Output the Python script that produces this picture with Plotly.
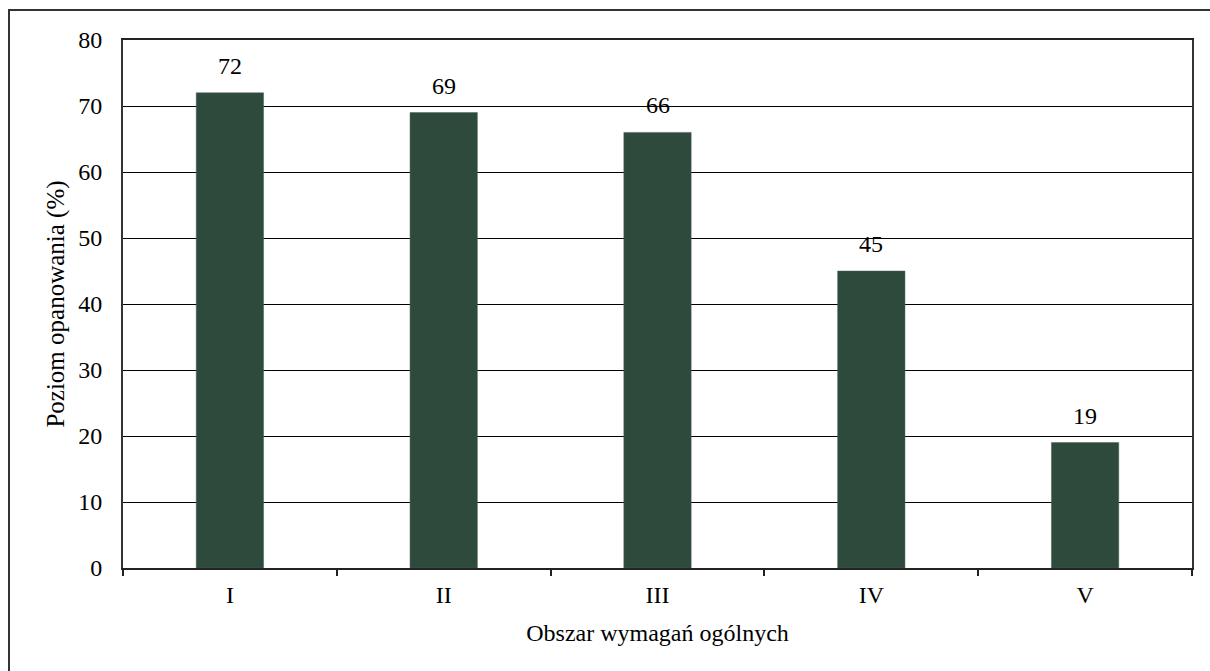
import plotly.graph_objects as go

categories = ["I", "II", "III", "IV", "V"]
values = [72, 69, 66, 45, 19]
y_ticks = [0, 10, 20, 30, 40, 50, 60, 70, 80]

FONT = "Liberation Serif, Times New Roman, serif"
BAR_COLOR = "#2E4A3C"

fig = go.Figure()
fig.add_trace(go.Bar(
    x=categories, y=values, width=0.315,
    marker=dict(color=BAR_COLOR, line=dict(color="#4a6357", width=0.5)),
    hoverinfo="x+y",
))

for c, v in zip(categories, values):
    fig.add_annotation(x=c, y=v, text=str(v), showarrow=False,
                       yanchor="bottom", yshift=12,
                       font=dict(family=FONT, size=24, color="#000"))

fig.update_layout(
    width=1210, height=671,
    margin=dict(l=123, r=18, t=40, b=103),
    paper_bgcolor="white", plot_bgcolor="white",
    font=dict(family=FONT, size=24, color="#000"),
    showlegend=False,
    xaxis=dict(
        title=dict(text="Obszar wymagań ogólnych", standoff=17,
                   font=dict(family=FONT, size=24)),
        tickson="boundaries", ticks="outside", ticklen=6, tickwidth=1.5,
        ticklabelstandoff=4,
        tickcolor="#222", showline=True, linecolor="#222", linewidth=2,
        mirror=True, showgrid=False, zeroline=False,
    ),
    yaxis=dict(
        title=dict(text="Poziom opanowania (%)", standoff=6,
                   font=dict(family=FONT, size=25)),
        range=[0, 80], tickvals=y_ticks, ticks="", ticklabelstandoff=14,
        showline=True, linecolor="#333", linewidth=2, mirror=True,
        showgrid=True, gridcolor="#000", gridwidth=1, zeroline=False,
    ),
    shapes=[dict(type="rect", xref="paper", yref="paper",
                 x0=(9 - 123) / 1069, x1=(1220 - 123) / 1069,
                 y0=(568 - 680) / 528, y1=(568 - 10) / 528,
                 line=dict(color="#333", width=2), fillcolor="rgba(0,0,0,0)",
                 layer="below")],
)

fig.write_html("out.html", config={"displayModeBar": False},
               post_script="document.body.style.margin='0';document.body.style.overflow='hidden';")
